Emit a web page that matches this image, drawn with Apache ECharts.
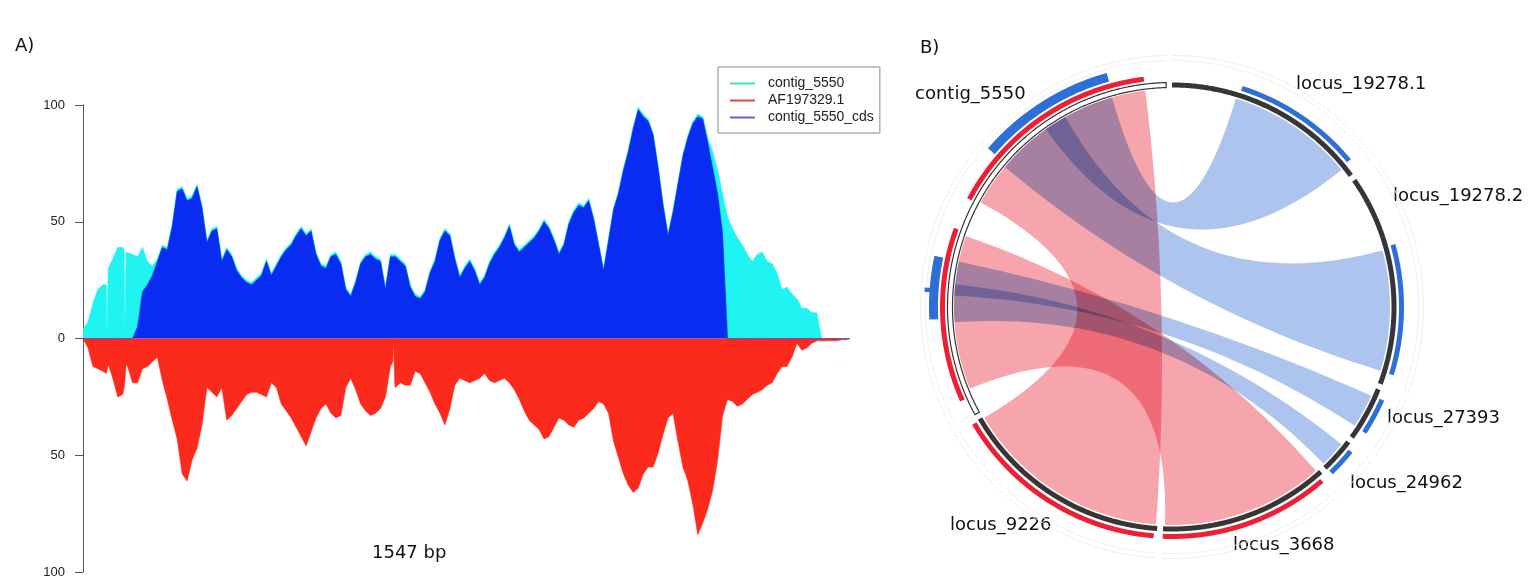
<!DOCTYPE html>
<html><head><meta charset="utf-8">
<script src="https://cdn.jsdelivr.net/npm/echarts@6/dist/echarts.min.js"></script>
<style>html,body{margin:0;padding:0;background:#fff}#c{width:1532px;height:582px}</style>
</head><body><div id="c"></div>
<script>
// ---------- Panel A: coverage profiles (bp position -> depth) ----------
const positionsBp = [
  0,10,20,30,40,47,48,50,51,60,70,80,83,84,86,87,90,
  100,110,120,130,140,150,160,170,180,190,
  200,210,220,230,240,250,260,270,280,290,
  300,310,320,330,340,350,360,370,380,390,
  400,410,420,430,440,450,460,470,480,490,
  500,510,520,530,540,550,560,570,580,590,
  600,610,620,625,626,628,629,630,640,650,660,670,680,690,
  700,710,720,730,740,750,760,770,780,790,
  800,810,820,830,840,850,860,870,880,890,
  900,910,920,930,940,950,960,970,980,990,
  1000,1010,1020,1030,1040,1050,1060,1070,1080,1090,
  1100,1110,1120,1130,1140,1150,1160,1170,1180,1190,
  1200,1210,1220,1230,1240,1250,1260,1270,1280,1290,
  1300,1310,1320,1330,1340,1350,1360,1370,1380,1390,
  1400,1410,1420,1430,1440,1450,1460,1470,1480,1490,
  1500,1510,1520,1530,1540,1547
];
const contigCoverage = [
  4,7,15,21,23,23,0,0,30,34,39,39,38,0,0,37,37,
  36,35,39,33,31,34,40,39,49,64,
  65,60,61,66,57,42,47,48,34,39,
  36,30,27,25,24,26,28,34,28,32,
  36,39,41,45,48,45,47,37,32,31,
  36,37,33,22,19,25,33,36,37,35,
  34,22,36,36,36,36,36,36,34,32,23,19,18,21,
  29,34,43,47,45,35,27,31,34,30,
  24,27,33,37,40,44,49,41,38,40,
  42,44,47,51,48,43,37,41,50,55,
  58,57,60,52,41,30,43,56,63,73,
  81,91,99,96,94,88,74,58,45,55,
  67,79,87,93,96,95,86,80,72,62,
  52,47,43,40,36,33,36,37,33,32,
  28,21,22,19,17,13,13,11,11,0,
  0,0,0,0,0,0
];
const cdsCoverage = [
  0,0,0,0,0,0,0,0,0,0,0,0,0,0,0,0,0,
  0,5,20,23,27,33,39,38,48,63,
  64,59,60,65,56,41,46,47,33,38,
  35,29,26,24,23,25,27,33,27,31,
  35,38,40,44,47,44,46,36,31,30,
  35,36,32,21,18,24,32,35,36,34,
  33,21,35,35,35,35,35,35,33,31,22,18,17,20,
  28,33,42,46,44,34,26,30,33,29,
  23,26,32,36,39,43,48,40,37,39,
  41,43,46,50,47,42,36,40,49,54,
  57,56,59,51,40,29,42,55,62,72,
  80,90,98,95,93,87,73,57,44,54,
  66,78,86,92,95,94,84,73,62,45,
  0,0,0,0,0,0,0,0,0,0,
  0,0,0,0,0,0,0,0,0,0,
  0,0,0,0,0,0
];
const refCoverage = [
  0,4,12,13,14,15,15,12,11,17,25,24,21,19,14,11,12,
  19,19,13,12,10,8,18,26,35,43,
  58,61,52,47,37,21,23,25,21,35,
  33,30,27,24,23,23,24,25,19,21,
  28,31,34,38,42,46,40,34,30,28,
  32,34,33,21,17,22,28,31,33,32,
  30,25,12,10,0,0,20,21,19,20,20,14,15,19,
  23,28,32,37,30,20,17,18,19,18,
  17,15,18,19,18,17,19,22,26,31,
  35,37,39,43,42,38,34,35,37,38,
  35,34,32,30,27,28,32,44,51,58,
  63,66,64,58,55,55,49,41,34,32,
  44,55,61,71,84,79,73,65,52,33,
  26,27,29,28,26,24,23,22,20,19,
  15,12,12,8,2,5,4,2,1,1,
  1,1,1,0.5,0.5,0
];
const seriesNames = ['contig_5550', 'AF197329.1', 'contig_5550_cds'];
const yTicks = [-100, -50, 0, 50, 100];

// ---------- Panel B: circular alignment plot ----------
const seqNames = ['locus_19278.1','locus_19278.2','locus_27393','locus_24962','locus_3668','locus_9226','contig_5550'];
const seqLengths = [709, 727, 187, 119, 586, 740, 1547];
const seqGapBp = 20;

const featSeq   = ['contig_5550','contig_5550','contig_5550','contig_5550','contig_5550','locus_19278.1','locus_19278.2','locus_27393','locus_24962','locus_3668','locus_9226'];
const featStart = [61, 748, 339, 917, 425, 234, 252, 28, 20, 17, 10];
const featEnd   = [642, 1474, 539, 1361, 438, 666, 686, 150, 115, 586, 735];
const featType  = ['red','red','blue','blue','blue','blue','blue','blue','blue','red','red'];
const featTrack = [0,0,1,1,2,0,0,0,0,0,0];

const linkTarget      = ['locus_3668','locus_9226','locus_19278.1','locus_19278.2','locus_27393','locus_24962'];
const linkContigStart = [88, 757, 1100, 906, 418, 325];
const linkContigEnd   = [629, 1474, 1356, 1180, 537, 457];
const linkTargetStart = [10, 5, 225, 261, 30, 21];
const linkTargetEnd   = [580, 735, 674, 684, 149, 113];
const linkType        = ['red','red','blue','blue','blue','blue'];

// ---------- layout helpers ----------
const seqOffsets = [];
let acc = 0;
seqLengths.forEach(l => { seqOffsets.push(acc); acc += l + seqGapBp; });
const circleTotal = acc;
const absPos = (name, local) => seqOffsets[seqNames.indexOf(name)] + local;

const TRACK_R = [[227, 232], [234, 243], [240, 248]];
const IDEO_R = [219.5, 224.5];
const LINK_R = 218;

function arcPts(api, a1, a2, r) {
  const n = Math.max(4, Math.ceil(Math.abs(a2 - a1) / 4));
  const pts = [];
  for (let j = 0; j <= n; j++) pts.push(api.coord([r, a1 + (a2 - a1) * j / n]));
  return pts;
}
function bezPts(api, a, b, r) {
  const p0 = api.coord([r, a]), p2 = api.coord([r, b]), c = api.coord([0, 0]);
  const pts = [];
  for (let j = 1; j < 40; j++) {
    const t = j / 40, u = 1 - t;
    pts.push([u*u*p0[0] + 2*u*t*c[0] + t*t*p2[0], u*u*p0[1] + 2*u*t*c[1] + t*t*p2[1]]);
  }
  return pts;
}
function ring(api, a1, a2, r1, r2) {
  return arcPts(api, a1, a2, r2).concat(arcPts(api, a2, a1, r1));
}

const ribbonColor = { red: '#f7a5ad', blue: '#adc5ee' };
const featColor = { red: '#ee1f35', blue: '#2c6fd6' };

const chart = echarts.init(document.getElementById('c'), null, { renderer: 'canvas' });

const option = {
  backgroundColor: '#ffffff',
  animation: false,
  grid: { left: 83, top: 105, right: 682, bottom: 10, show: false },
  xAxis: { type: 'value', min: 0, max: 1547, show: false },
  yAxis: {
    type: 'value', min: yTicks[0], max: yTicks[yTicks.length - 1], interval: 50,
    axisLine: { show: true, lineStyle: { color: '#555', width: 1 } },
    axisTick: { show: true, length: 8, lineStyle: { color: '#555' } },
    axisLabel: { formatter: v => String(Math.abs(v)), color: '#222', fontSize: 13, fontFamily: 'Liberation Sans', margin: 18 },
    splitLine: { show: false }
  },
  legend: {
    left: 718, top: 67, orient: 'vertical',
    data: [
      { name: seriesNames[0], itemStyle: { color: '#40e0d0' } },
      { name: seriesNames[1], itemStyle: { color: '#e8403a' } },
      { name: seriesNames[2], itemStyle: { color: '#6a60cc' } }
    ],
    icon: 'rect', itemWidth: 25, itemHeight: 2, itemGap: 0,
    padding: [8, 6, 7, 12],
    borderColor: '#8a8a8a', borderWidth: 1, borderRadius: 0,
    textStyle: { fontSize: 14, fontFamily: 'Liberation Sans', color: '#222', lineHeight: 17, padding: [0, 0, 0, 8] },
    selectedMode: false
  },
  polar: { center: [1172, 307], radius: 260 },
  angleAxis: { type: 'value', min: 0, max: circleTotal, startAngle: 90, clockwise: true, show: false, splitLine: { show: false } },
  radiusAxis: { type: 'value', min: 0, max: 260, show: false, splitLine: { show: false } },
  graphic: [
    { type: 'text', x: 15, y: 46, style: { text: 'A)', fontSize: 18, fontFamily: 'DejaVu Sans', fill: '#111', verticalAlign: 'middle' } },
    { type: 'text', x: 920, y: 48, style: { text: 'B)', fontSize: 18, fontFamily: 'DejaVu Sans', fill: '#111', verticalAlign: 'middle' } },
    { type: 'text', x: 372, y: 553, style: { text: '1547 bp', fontSize: 18, fontFamily: 'DejaVu Sans', fill: '#111', verticalAlign: 'middle' } },
    { type: 'text', x: 915, y: 94, style: { text: 'contig_5550', fontSize: 18, fontFamily: 'DejaVu Sans', fill: '#111', verticalAlign: 'middle' } },
    { type: 'text', x: 1296, y: 84, style: { text: 'locus_19278.1', fontSize: 18, fontFamily: 'DejaVu Sans', fill: '#111', verticalAlign: 'middle' } },
    { type: 'text', x: 1393, y: 196, style: { text: 'locus_19278.2', fontSize: 18, fontFamily: 'DejaVu Sans', fill: '#111', verticalAlign: 'middle' } },
    { type: 'text', x: 1387, y: 418, style: { text: 'locus_27393', fontSize: 18, fontFamily: 'DejaVu Sans', fill: '#111', verticalAlign: 'middle' } },
    { type: 'text', x: 1350, y: 483, style: { text: 'locus_24962', fontSize: 18, fontFamily: 'DejaVu Sans', fill: '#111', verticalAlign: 'middle' } },
    { type: 'text', x: 1233, y: 545, style: { text: 'locus_3668', fontSize: 18, fontFamily: 'DejaVu Sans', fill: '#111', verticalAlign: 'middle' } },
    { type: 'text', x: 950, y: 525, style: { text: 'locus_9226', fontSize: 18, fontFamily: 'DejaVu Sans', fill: '#111', verticalAlign: 'middle' } }
  ],
  series: [
    {
      name: seriesNames[0], type: 'line', symbol: 'none',
      data: positionsBp.map((p, i) => [p, contigCoverage[i]]),
      lineStyle: { width: 0.6, color: '#1ff4f2' }, itemStyle: { color: '#40e0d0' },
      areaStyle: { color: '#1ff4f2', opacity: 1 }, z: 2
    },
    {
      name: seriesNames[2], type: 'line', symbol: 'none',
      data: positionsBp.map((p, i) => [p, cdsCoverage[i]]),
      lineStyle: { width: 0.6, color: '#0a2cf0' }, itemStyle: { color: '#6a60cc' },
      areaStyle: { color: '#0a2cf0', opacity: 1 }, z: 3
    },
    {
      name: seriesNames[1], type: 'line', symbol: 'none',
      data: positionsBp.map((p, i) => [p, -refCoverage[i]]),
      lineStyle: { width: 0.6, color: '#fb2a1c' }, itemStyle: { color: '#e8403a' },
      areaStyle: { color: '#fb2a1c', opacity: 1 }, z: 3
    },
    // faint outer track outlines
    {
      type: 'custom', coordinateSystem: 'polar', z: 1, silent: true,
      data: seqNames.map((n, i) => [250, seqOffsets[i]]),
      renderItem: (params, api) => {
        const k = params.dataIndex;
        const a1 = seqOffsets[k], a2 = seqOffsets[k] + seqLengths[k];
        return { type: 'group', children: [246.5, 251.5].map(r => ({
          type: 'polyline', shape: { points: arcPts(api, a1, a2, r) },
          style: { stroke: '#f3eef0', lineWidth: 1, fill: null }
        })) };
      }
    },
    // ribbons
    {
      type: 'custom', coordinateSystem: 'polar', z: 2, silent: true,
      data: linkTarget.map((t, i) => [LINK_R, absPos('contig_5550', linkContigStart[i])]),
      renderItem: (params, api) => {
        const i = params.dataIndex;
        const cs = absPos('contig_5550', linkContigStart[i]);
        const ce = absPos('contig_5550', linkContigEnd[i]);
        const ts = absPos(linkTarget[i], linkTargetStart[i]);
        const te = absPos(linkTarget[i], linkTargetEnd[i]);
        const pts = arcPts(api, cs, ce, LINK_R)
          .concat(bezPts(api, ce, ts, LINK_R))
          .concat(arcPts(api, ts, te, LINK_R))
          .concat(bezPts(api, te, cs, LINK_R));
        return { type: 'polygon', shape: { points: pts },
          style: { fill: ribbonColor[linkType[i]], blend: 'multiply' } };
      }
    },
    // ideogram ring
    {
      type: 'custom', coordinateSystem: 'polar', z: 4, silent: true,
      data: seqNames.map((n, i) => [IDEO_R[1], seqOffsets[i]]),
      renderItem: (params, api) => {
        const k = params.dataIndex;
        const a1 = seqOffsets[k], a2 = seqOffsets[k] + seqLengths[k];
        const hollow = seqNames[k] === 'contig_5550';
        return { type: 'polygon', shape: { points: ring(api, a1, a2, IDEO_R[0], IDEO_R[1]) },
          style: hollow ? { fill: '#ffffff', stroke: '#333', lineWidth: 1.2 } : { fill: '#363636' } };
      }
    },
    // feature tracks
    {
      type: 'custom', coordinateSystem: 'polar', z: 4, silent: true,
      data: featSeq.map((s, i) => [TRACK_R[featTrack[i]][1], absPos(s, featStart[i])]),
      renderItem: (params, api) => {
        const i = params.dataIndex;
        const a1 = absPos(featSeq[i], featStart[i]), a2 = absPos(featSeq[i], featEnd[i]);
        const r = TRACK_R[featTrack[i]];
        return { type: 'polygon', shape: { points: ring(api, a1, a2, r[0], r[1]) },
          style: { fill: featColor[featType[i]] } };
      }
    }
  ]
};
chart.setOption(option);

// make overlapping ribbons mix like translucent circos links (multiply blending)
const zr = chart.getZr();
const blendFills = new Set(Object.values(ribbonColor));
zr.storage.getDisplayList(true).forEach(el => {
  if (el.style && blendFills.has(el.style.fill)) {
    el.style.blend = 'multiply';
    el.markRedraw();
  }
});
zr.refreshImmediately();
</script>
</body></html>
